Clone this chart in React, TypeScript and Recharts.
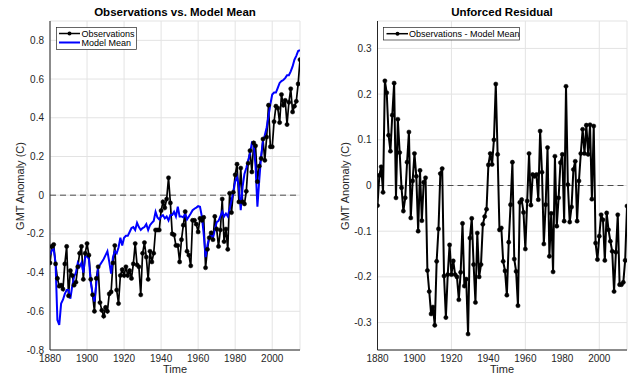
import React from 'react';
import { LineChart, Line, XAxis, YAxis, CartesianGrid, ReferenceLine } from 'recharts';

// annual values, first entry is 1880
const FIRST_YEAR = 1880;

const observations = [
  -0.35, -0.265, -0.255, -0.355, -0.43, -0.47, -0.465, -0.485, -0.355, -0.265,
  -0.52, -0.39, -0.415, -0.465, -0.45, -0.37, -0.3, -0.265, -0.435, -0.3,
  -0.25, -0.31, -0.435, -0.515, -0.6, -0.43, -0.37, -0.555, -0.595, -0.625,
  -0.58, -0.6, -0.51, -0.5, -0.35, -0.26, -0.49, -0.56, -0.415, -0.385,
  -0.415, -0.37, -0.415, -0.39, -0.43, -0.355, -0.25, -0.36, -0.37, -0.515,
  -0.3, -0.245, -0.32, -0.435, -0.29, -0.345, -0.3, -0.18, -0.18, -0.18,
  -0.08, -0.035, -0.065, -0.02, 0.09, -0.04, -0.2, -0.205, -0.26, -0.26,
  -0.345, -0.23, -0.155, -0.085, -0.29, -0.31, -0.365, -0.13, -0.13, -0.15,
  -0.19, -0.12, -0.13, -0.115, -0.375, -0.28, -0.22, -0.195, -0.23, -0.11,
  -0.175, -0.265, -0.18, -0.02, -0.24, -0.175, -0.28, 0.01, -0.09, 0.015,
  0.105, 0.16, -0.035, 0.14, -0.035, -0.045, 0.02, 0.165, 0.23, 0.12,
  0.27, 0.255, 0.07, 0.15, 0.19, 0.29, 0.18, 0.3, 0.465, 0.25,
  0.25, 0.38, 0.46, 0.45, 0.375, 0.52, 0.465, 0.49, 0.365, 0.48,
  0.55, 0.43, 0.46, 0.485, 0.575, 0.7,
];

const modelMean = [
  -0.31, -0.285, -0.28, -0.35, -0.645, -0.67, -0.56, -0.54, -0.51, -0.49,
  -0.49, -0.535, -0.47, -0.42, -0.4, -0.35, -0.37, -0.35, -0.4, -0.32,
  -0.315, -0.33, -0.45, -0.51, -0.55, -0.46, -0.37, -0.36, -0.345, -0.33,
  -0.31, -0.29, -0.345, -0.405, -0.32, -0.29, -0.3, -0.27, -0.22, -0.26,
  -0.22, -0.21, -0.21, -0.19, -0.17, -0.165, -0.18, -0.143, -0.165, -0.18,
  -0.17, -0.165, -0.15, -0.18, -0.155, -0.143, -0.133, -0.086, -0.115, -0.125,
  -0.11, -0.103, -0.12, -0.11, -0.13, -0.103, -0.103, -0.086, -0.11, -0.06,
  -0.11, -0.11, -0.115, -0.095, -0.125, -0.11, -0.095, -0.078, -0.07, -0.064,
  -0.057, -0.06, -0.11, -0.2, -0.32, -0.26, -0.215, -0.205, -0.22, -0.18,
  -0.14, -0.133, -0.11, -0.086, -0.11, -0.095, -0.11, -0.07, -0.026, 0.017,
  0.07, 0.095, 0.043, -0.078, 0.043, 0.11, 0.14, 0.18, 0.215, 0.27,
  0.26, 0.15, -0.06, 0.077, 0.2, 0.28, 0.31, 0.35, 0.41, 0.47,
  0.52, 0.53, 0.53, 0.555, 0.58, 0.59, 0.595, 0.605, 0.62, 0.62,
  0.64, 0.665, 0.7, 0.72, 0.745, 0.75,
];

const residual = [
  -0.044, 0.022, 0.041, -0.015, 0.229, 0.203, 0.11, 0.075, 0.154, 0.224,
  -0.027, 0.145, 0.072, -0.005, -0.056, -0.027, 0.051, 0.117, -0.071, 0.01,
  0.07, 0.02, -0.1, 0.033, -0.077, 0.007, 0.017, -0.186, -0.232, -0.281,
  -0.266, -0.306, -0.166, -0.095, 0.026, 0.037, -0.198, -0.289, -0.195, -0.13,
  -0.195, -0.165, -0.195, -0.2, -0.25, -0.19, -0.083, -0.22, -0.205, -0.325,
  -0.115, -0.072, -0.173, -0.256, -0.104, -0.2, -0.173, -0.085, -0.068, -0.052,
  0.045, 0.07, 0.046, 0.1, 0.222, 0.068, -0.097, -0.093, -0.166, -0.187,
  -0.24, -0.124, -0.042, 0.051, -0.161, -0.188, -0.263, -0.037, -0.031, -0.059,
  -0.139, -0.034, 0.07, -0.043, 0.024, 0.02, 0.024, -0.031, 0.119, 0.029,
  -0.128, -0.042, 0.083, -0.155, -0.061, -0.189, 0.064, -0.089, -0.027, 0.05,
  0.068, -0.078, 0.217, 0.002, -0.08, -0.047, 0.035, 0.053, -0.078, 0.01,
  0.07, 0.123, 0.07, 0.132, 0.068, 0.133, -0.03, 0.13, -0.126, -0.162,
  -0.111, -0.064, -0.075, -0.164, -0.06, -0.097, -0.122, -0.144, -0.232, -0.146,
  -0.064, -0.217, -0.217, -0.212, -0.164, -0.045,
];

const xTicks = [1880, 1900, 1920, 1940, 1960, 1980, 2000];
const leftYTicks = [-0.8, -0.6, -0.4, -0.2, 0, 0.2, 0.4, 0.6, 0.8];
const rightYTicks = [-0.3, -0.2, -0.1, 0, 0.1, 0.2, 0.3];

const leftData = observations.map((v, i) => ({ year: FIRST_YEAR + i, obs: v, model: modelMean[i] }));
const rightData = residual.map((v, i) => ({ year: FIRST_YEAR + i, resid: v }));

const FONT = '"Liberation Sans", Arial, Helvetica, sans-serif';
const AXIS = '#262626';
const GRID = '#e3e3e3';

const fmt = (v: number) => (v === 0 ? '0' : v.toFixed(1));
const tickStyle = { fill: AXIS, fontSize: 10, fontFamily: FONT };
const dotStyle = { r: 2.1, fill: '#000', stroke: '#000', strokeWidth: 0.5 };

export default function App() {
  return (
    <div style={{ position: 'absolute', left: 0, top: 0, width: 640, height: 380, background: '#fff', fontFamily: FONT }}>
      <div style={{ position: 'absolute', left: 0, top: 0 }}>
        <LineChart width={310} height={380} data={leftData} margin={{ top: 21, right: 10, bottom: 10, left: 10 }}>
          <CartesianGrid stroke={GRID} />
          <XAxis dataKey="year" type="number" domain={[1880, 2015]} ticks={xTicks} tickLine={false} tickSize={0} tickMargin={5}
            height={20} axisLine={{ stroke: AXIS }} tick={tickStyle} allowDataOverflow />
          <XAxis xAxisId="top" orientation="top" dataKey="year" type="number" domain={[1880, 2015]} height={0}
            tick={false} tickLine={false} axisLine={{ stroke: AXIS }} />
          <YAxis type="number" domain={[-0.8, 0.9]} ticks={leftYTicks} tickFormatter={fmt} tickLine={false} tickSize={0}
            tickMargin={6} width={40} axisLine={{ stroke: AXIS }} tick={tickStyle} allowDataOverflow />
          <YAxis yAxisId="right" orientation="right" type="number" domain={[0, 1]} width={0} tick={false} tickLine={false}
            axisLine={{ stroke: AXIS }} />
          <ReferenceLine y={0} stroke="#4d4d4d" strokeDasharray="6 4" />
          <Line dataKey="obs" stroke="#000" strokeWidth={1.7} dot={dotStyle} isAnimationActive={false} />
          <Line dataKey="model" stroke="#0000ff" strokeWidth={2} dot={false} isAnimationActive={false} />
        </LineChart>
      </div>
      <div style={{ position: 'absolute', left: 320, top: 0 }}>
        <LineChart width={320} height={380} data={rightData} margin={{ top: 21, right: 13, bottom: 10, left: 17.5 }}>
          <CartesianGrid stroke={GRID} />
          <XAxis dataKey="year" type="number" domain={[1880, 2015]} ticks={xTicks} tickLine={false} tickSize={0} tickMargin={5}
            height={20} axisLine={{ stroke: AXIS }} tick={tickStyle} allowDataOverflow />
          <XAxis xAxisId="top" orientation="top" dataKey="year" type="number" domain={[1880, 2015]} height={0}
            tick={false} tickLine={false} axisLine={{ stroke: AXIS }} />
          <YAxis type="number" domain={[-0.36, 0.36]} ticks={rightYTicks} tickFormatter={fmt} tickLine={false} tickSize={0}
            tickMargin={6} width={40} axisLine={{ stroke: AXIS }} tick={tickStyle} allowDataOverflow />
          <YAxis yAxisId="right" orientation="right" type="number" domain={[0, 1]} width={0} tick={false} tickLine={false}
            axisLine={{ stroke: AXIS }} />
          <ReferenceLine y={0} stroke="#4d4d4d" strokeDasharray="6 4" />
          <Line dataKey="resid" stroke="#000" strokeWidth={2} dot={dotStyle} isAnimationActive={false} />
        </LineChart>
      </div>
      <svg width={640} height={380} style={{ position: 'absolute', left: 0, top: 0, pointerEvents: 'none' }}>
        <g fontFamily={FONT} fill="#000">
          <text x={175} y={16} fontSize={11.5} fontWeight="bold" textAnchor="middle">Observations vs. Model Mean</text>
          <text x={502} y={16} fontSize={11.5} fontWeight="bold" textAnchor="middle">Unforced Residual</text>
          <text x={175} y={373} fontSize={11} fill={AXIS} textAnchor="middle">Time</text>
          <text x={502} y={373} fontSize={11} fill={AXIS} textAnchor="middle">Time</text>
          <text transform="translate(24,186) rotate(-90)" fontSize={11} fill={AXIS} textAnchor="middle">GMT Anomaly (C)</text>
          <text transform="translate(349,186) rotate(-90)" fontSize={11} fill={AXIS} textAnchor="middle">GMT Anomaly (C)</text>
        </g>
        <g fontFamily={FONT} fontSize={9} fill="#000">
          <rect x={56.5} y={27.5} width={80} height={22} fill="#fff" stroke={AXIS} strokeWidth={0.7} />
          <line x1={59} y1={33.5} x2={80} y2={33.5} stroke="#000" strokeWidth={1.5} />
          <circle cx={69.5} cy={33.5} r={2} fill="#000" />
          <text x={81.5} y={36.6}>Observations</text>
          <line x1={59} y1={42.5} x2={80} y2={42.5} stroke="#0000ff" strokeWidth={2} />
          <text x={81.5} y={45.6}>Model Mean</text>
          <rect x={383.5} y={27.5} width={136} height={12.5} fill="#fff" stroke={AXIS} strokeWidth={0.7} />
          <line x1={386.5} y1={33.7} x2={408} y2={33.7} stroke="#000" strokeWidth={1.5} />
          <circle cx={397.5} cy={33.7} r={2} fill="#000" />
          <text x={409} y={36.8}>Observations - Model Mean</text>
        </g>
      </svg>
    </div>
  );
}
